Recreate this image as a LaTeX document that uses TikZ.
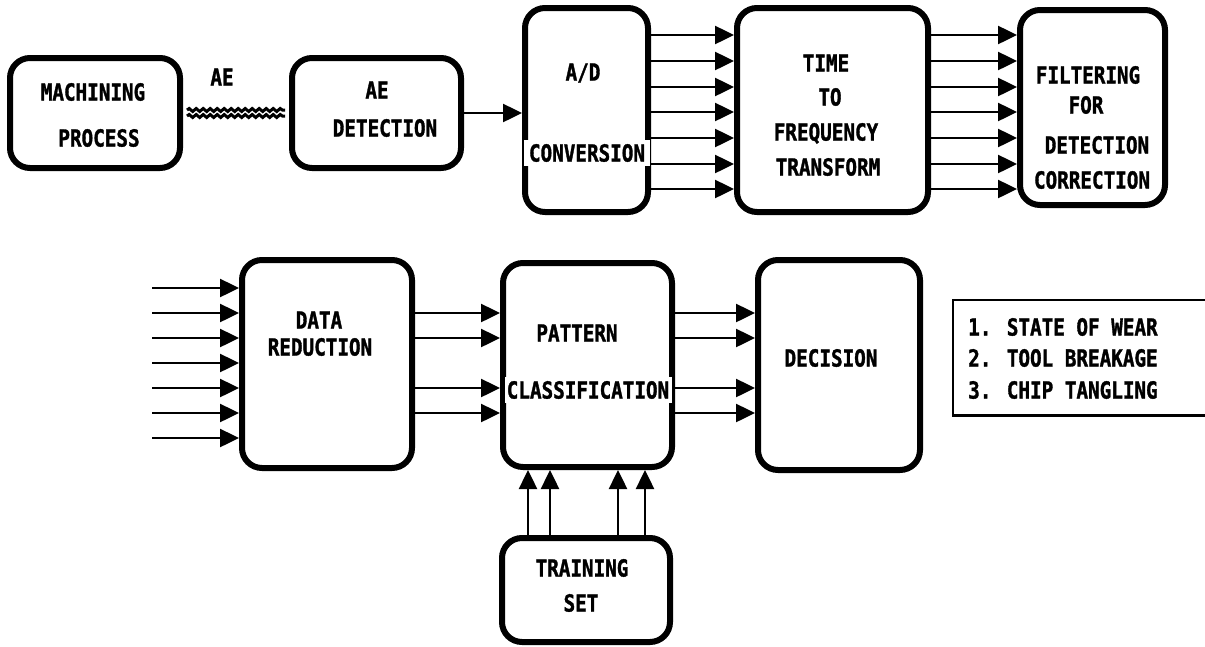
\documentclass[tikz,border=0pt]{standalone}
\usepackage{fontspec}
\newfontfamily\plotfont[FakeStretch=0.82, FakeBold=1.4]{DejaVu Sans Mono Bold}
\usetikzlibrary{arrows.meta,decorations.pathmorphing,calc}

\tikzset{
  blk/.style={draw, line width=6pt, rounded corners=20pt, inner sep=0pt},
  lbl/.style={font=\plotfont\fontsize{23.5}{26}\selectfont,
              inner sep=0pt, text height=17.1pt, text depth=0pt},
  cut/.style={lbl, fill=white, inner ysep=4.5pt},
  arr/.style={line width=2.5pt, -{Triangle[length=19pt,width=18pt]}},
  wave/.style={line width=3pt, decorate,
               decoration={snake, segment length=7pt, amplitude=1.5pt}},
  legbox/.style={inner sep=0pt},
}

\begin{document}
\begin{tikzpicture}[x=1pt, y=-1pt]
\useasboundingbox (0,0) rectangle (1205,646);

% ---- upper chain ----
\node[blk, minimum width=170pt, minimum height=110pt] (mach) at (95,113) {};
\node[lbl] (machA) at (93,92) {MACHINING};
\node[lbl] (machB) at (99,138) {PROCESS};

\node[blk, minimum width=169pt, minimum height=110pt] (aedet) at (376.5,113) {};
\node[lbl] (aedetA) at (377,90) {AE};
\node[lbl] (aedetB) at (385,128) {DETECTION};

\node[blk, minimum width=123pt, minimum height=204pt] (adc) at (586.5,110) {};
\node[blk, minimum width=191pt, minimum height=204pt] (tft) at (832.5,110) {};
\node[blk, minimum width=145pt, minimum height=195pt] (filt) at (1092.5,107.5) {};

% acoustic emission path
\node[lbl] (aelbl) at (222,77) {AE};
\draw[wave] ($(mach.east)+(4,-3)$) -- ($(aedet.west)+(-4,-3)$);
\draw[wave] ($(mach.east)+(4,3)$) -- ($(aedet.west)+(-4,3)$);

\draw[arr] (aedet.east) -- (aedet.east -| adc.west);

\foreach \y in {35,61,87,112,138,164,189}{
  \draw[arr] (adc.east |- 0,\y) -- (tft.west |- 0,\y);
  \draw[arr] (tft.east |- 0,\y) -- (filt.west |- 0,\y);
}

\node[lbl] (adcA) at (583,72) {A/D};
\node[cut, minimum width=126pt] (adcB) at (587,153) {CONVERSION};

\node[lbl] (tftA) at (826,63) {TIME};
\node[lbl] (tftB) at (830,97) {TO};
\node[lbl] (tftC) at (826,132) {FREQUENCY};
\node[lbl] (tftD) at (828,167) {TRANSFORM};

\node[lbl] (filtA) at (1088,75) {FILTERING};
\node[lbl] (filtB) at (1086,105) {FOR};
\node[lbl] (filtC) at (1097,145) {DETECTION};
\node[lbl] (filtD) at (1092,180) {CORRECTION};

% ---- lower chain ----
\node[blk, minimum width=170pt, minimum height=208pt] (datared) at (327,364) {};
\node[blk, minimum width=169pt, minimum height=204pt] (patt) at (587.5,365) {};
\node[blk, minimum width=162pt, minimum height=210pt] (dec) at (839,365) {};
\node[blk, minimum width=168pt, minimum height=104pt] (train) at (586,590) {};

\foreach \y [count=\i] in {288,313,338,363,388,413,438}{
  \coordinate (in\i) at (152,\y);
  \draw[arr] (in\i) -- (in\i -| datared.west);
}

\foreach \y in {313,338,388,413}{
  \draw[arr] (datared.east |- 0,\y) -- (patt.west |- 0,\y);
  \draw[arr] (patt.east |- 0,\y) -- (dec.west |- 0,\y);
}

\foreach \dx [count=\i] in {-58,-36,32,59}{
  \coordinate (ts\i) at ($(train.north)+(\dx,0)$);
  \draw[arr] (ts\i) -- (ts\i |- patt.south);
}

\node[lbl] (drA) at (319,320) {DATA};
\node[lbl] (drB) at (320,347) {REDUCTION};

\node[lbl] (ptA) at (577,333) {PATTERN};
\node[cut, minimum width=167pt] (ptB) at (588,390) {CLASSIFICATION};

\node[lbl] (decA) at (831,358) {DECISION};

\node[lbl] (trA) at (582,568) {TRAINING};
\node[lbl] (trB) at (581,603) {SET};

% ---- outcome list ----
\node[legbox, anchor=north west, minimum width=252pt, minimum height=115pt] (legend) at (953,300) {};
\draw[line width=2.5pt] (legend.north east) -- (legend.north west)
      -- (legend.south west) -- (legend.south east);
\node[lbl, anchor=west] (leg1) at (968,327) {1. STATE OF WEAR};
\node[lbl, anchor=west] (leg2) at (968,358) {2. TOOL BREAKAGE};
\node[lbl, anchor=west] (leg3) at (968,390) {3. CHIP TANGLING};
\end{tikzpicture}
\end{document}
